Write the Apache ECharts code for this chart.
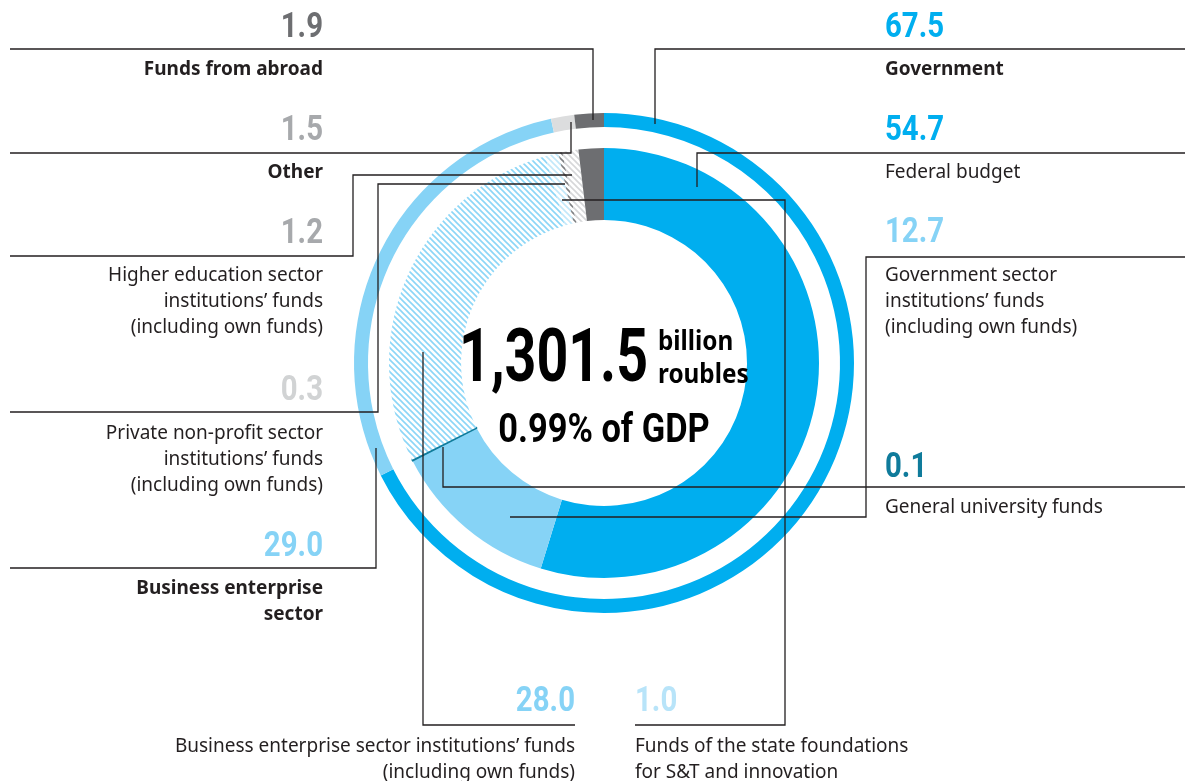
<!DOCTYPE html>
<html>
<head>
<meta charset="utf-8">
<script src="https://cdn.jsdelivr.net/npm/echarts@6/dist/echarts.min.js"></script>
<style>
  html, body { margin: 0; padding: 0; background: #ffffff; }
  #chart { width: 1187px; height: 781px; }
</style>
</head>
<body>
<div id="chart"></div>
<script>
// Sources of R&D funding, % of total internal expenditure

// Outer ring: sectors of funding
const outerLabels = ['Government', 'Business enterprise\nsector', 'Other', 'Funds from abroad'];
const outerValues = [67.5, 29.0, 1.5, 1.9];

// Inner ring: breakdown inside each sector
const innerLabels = [
  'Federal budget',
  'Government sector\ninstitutions’ funds\n(including own funds)',
  'General university funds',
  'Business enterprise sector institutions’ funds\n(including own funds)',
  'Funds of the state foundations\nfor S&T and innovation',
  'Private non-profit sector\ninstitutions’ funds\n(including own funds)',
  'Higher education sector\ninstitutions’ funds\n(including own funds)',
  'Funds from abroad'
];
const innerValues = [54.7, 12.7, 0.1, 28.0, 1.0, 0.3, 1.2, 1.9];

// Centre caption
const totalAmount = '1,301.5';
const totalUnit = ['billion', 'roubles'];
const gdpShare = '0.99% of GDP';

// ---- styling ----
const BLUE = '#00AEEF';
const LIGHT = '#86D3F6';
const TEAL = '#0F7B9B';
const DARK = '#6D6E71';
const PALE_GREY = '#DCDDDE';
const INK = '#231F20';

const NUM_FONT = 'Roboto, "Liberation Sans", sans-serif';
const BODY_FONT = '"Noto Sans", "Open Sans", sans-serif';

// Diagonal hatch fill on white
function hatch(color) {
  const s = 6;
  const c = document.createElement('canvas');
  c.width = s; c.height = s;
  const g = c.getContext('2d');
  g.fillStyle = '#ffffff';
  g.fillRect(0, 0, s, s);
  g.strokeStyle = color;
  g.lineWidth = 1.6;
  g.beginPath();
  g.moveTo(-1, -1); g.lineTo(s + 1, s + 1);
  g.moveTo(-1, s - 1); g.lineTo(1, s + 1);
  g.moveTo(s - 1, -1); g.lineTo(s + 1, 1);
  g.stroke();
  return { image: c, repeat: 'repeat' };
}

const outerColors = [BLUE, LIGHT, PALE_GREY, DARK];
const innerColors = [BLUE, LIGHT, TEAL, hatch('#8CD6F7'), hatch('#C2E8FA'), hatch('#7E8083'), hatch('#D6D7D9'), DARK];

const outerNumColors = [BLUE, LIGHT, '#A7A9AC', DARK];
const innerNumColors = [BLUE, LIGHT, TEAL, LIGHT, '#B8E4F9', '#D1D3D4', '#A7A9AC', DARK];

// Callout layout: where each value and caption sits and how its leader runs
const callouts = [
  { ring: 'outer', i: 0, x: 885, align: 'left',  numY: 28,  textTop: 57,  bold: true, path: [[1185, 49], [655, 49], [655, 124]] },
  { ring: 'outer', i: 3, x: 323, align: 'right', numY: 28,  textTop: 57,  bold: true, path: [[10, 49], [593, 49], [593, 120]] },
  { ring: 'outer', i: 2, x: 323, align: 'right', numY: 131, textTop: 160, bold: true, path: [[10, 153], [571, 153], [571, 122]] },
  { ring: 'outer', i: 1, x: 323, align: 'right', numY: 547, textTop: 576, bold: true, path: [[10, 568], [376, 568], [376, 448]] },
  { ring: 'inner', i: 0, x: 885, align: 'left',  numY: 131, textTop: 160, path: [[1185, 153], [697, 153], [697, 187]] },
  { ring: 'inner', i: 1, x: 885, align: 'left',  numY: 233, textTop: 263, path: [[1185, 257], [866, 257], [866, 517], [510, 517]] },
  { ring: 'inner', i: 2, x: 885, align: 'left',  numY: 468, textTop: 495, path: [[1185, 487], [443, 487], [443, 447]] },
  { ring: 'inner', i: 6, x: 323, align: 'right', numY: 234, textTop: 263, path: [[10, 256], [353, 256], [353, 175], [572, 175]] },
  { ring: 'inner', i: 5, x: 323, align: 'right', numY: 391, textTop: 421, path: [[10, 412], [378, 412], [378, 184], [565, 184]] },
  { ring: 'inner', i: 3, x: 575, align: 'right', numY: 702, textTop: 734, path: [[575, 725], [423, 725], [423, 352]] },
  { ring: 'inner', i: 4, x: 635, align: 'left',  numY: 702, textTop: 734, path: [[635, 725], [785, 725], [785, 200], [562, 200]] }
];

const graphics = [];
callouts.forEach(function (c) {
  const vals = c.ring === 'outer' ? outerValues : innerValues;
  const labels = c.ring === 'outer' ? outerLabels : innerLabels;
  const numColors = c.ring === 'outer' ? outerNumColors : innerNumColors;
  graphics.push({
    type: 'polyline', z: 20, silent: true,
    shape: { points: c.path },
    style: { stroke: INK, lineWidth: 1.3, fill: null }
  });
  graphics.push({
    type: 'text', z: 20, silent: true, x: c.x, y: c.numY, scaleX: 0.84,
    style: {
      text: vals[c.i].toFixed(1), fill: numColors[c.i],
      font: 'bold 35px ' + NUM_FONT, align: c.align, verticalAlign: 'middle'
    }
  });
  graphics.push({
    type: 'text', z: 20, silent: true, x: c.x, y: c.textTop,
    style: {
      text: labels[c.i], fill: INK,
      font: (c.bold ? 'bold ' : '') + '19px ' + BODY_FONT,
      lineHeight: 26, align: c.align, verticalAlign: 'top'
    }
  });
});

// Centre caption
graphics.push({
  type: 'text', z: 20, silent: true, x: 648, y: 362, scaleX: 0.75,
  style: { text: totalAmount, fill: '#000000', font: 'bold 74px ' + NUM_FONT, align: 'right', verticalAlign: 'middle' }
});
graphics.push({
  type: 'text', z: 20, silent: true, x: 658, y: 342, scaleX: 0.9,
  style: { text: totalUnit[0], fill: '#000000', font: 'bold 27px ' + BODY_FONT, align: 'left', verticalAlign: 'middle' }
});
graphics.push({
  type: 'text', z: 20, silent: true, x: 658, y: 375, scaleX: 0.9,
  style: { text: totalUnit[1], fill: '#000000', font: 'bold 27px ' + BODY_FONT, align: 'left', verticalAlign: 'middle' }
});
graphics.push({
  type: 'text', z: 20, silent: true, x: 604, y: 432, scaleX: 0.86,
  style: { text: gdpShare, fill: '#000000', font: 'bold 40px ' + NUM_FONT, align: 'center', verticalAlign: 'middle' }
});

const chart = echarts.init(document.getElementById('chart'), null, { renderer: 'canvas' });
chart.setOption({
  animation: false,
  backgroundColor: '#ffffff',
  series: [
    {
      type: 'pie', name: 'Sectors', silent: true,
      center: [604, 363], radius: [236, 250], startAngle: 90, clockwise: true,
      label: { show: false }, labelLine: { show: false },
      emphasis: { disabled: true },
      data: outerValues.map(function (v, k) {
        return { name: outerLabels[k], value: v, itemStyle: { color: outerColors[k] } };
      })
    },
    {
      type: 'pie', name: 'Sources', silent: true,
      center: [604, 363], radius: [143, 215], startAngle: 90, clockwise: true,
      label: { show: false }, labelLine: { show: false },
      emphasis: { disabled: true },
      data: innerValues.map(function (v, k) {
        const style = { color: innerColors[k] };
        if (k === 2) { style.borderColor = TEAL; style.borderWidth = 1.4; }
        return { name: innerLabels[k], value: v, itemStyle: style };
      })
    }
  ],
  graphic: { elements: graphics }
});
</script>
</body>
</html>
